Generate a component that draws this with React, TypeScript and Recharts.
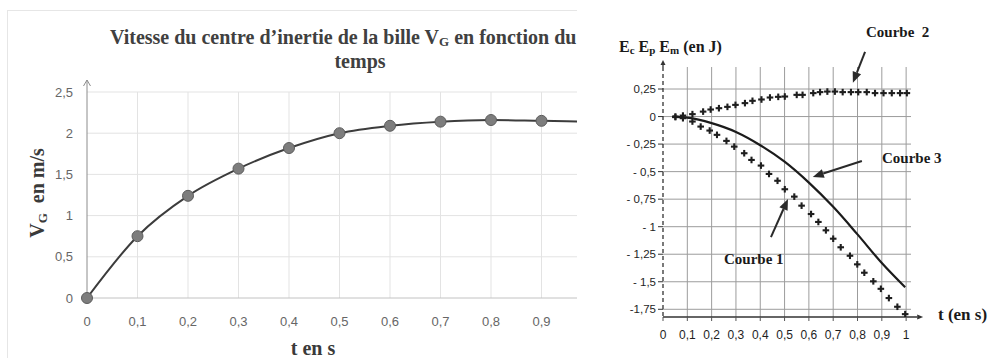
import React from 'react';
import { LineChart, Line, XAxis, YAxis, CartesianGrid, ReferenceDot, ReferenceLine } from 'recharts';

// ---------------- Left chart: V_G = f(t) ----------------
const LEFT_T = [0, 0.1, 0.2, 0.3, 0.4, 0.5, 0.6, 0.7, 0.8, 0.9, 1];
const LEFT_VG = [0, 0.75, 1.24, 1.57, 1.82, 2.0, 2.09, 2.14, 2.16, 2.15, 2.14];
const LEFT_X_TICKS = [0, 0.1, 0.2, 0.3, 0.4, 0.5, 0.6, 0.7, 0.8, 0.9];
const LEFT_Y_TICKS = [0, 0.5, 1, 1.5, 2, 2.5];
const LEFT_GRID_X = [0.1, 0.2, 0.3, 0.4, 0.5, 0.6, 0.7, 0.8, 0.9, 1];
const LEFT_GRID_Y = [0.5, 1, 1.5, 2, 2.5];

// ---------------- Right chart: energies ----------------
// Courbe 1 (Ep)
const C1_T = [0.051, 0.082, 0.121, 0.155, 0.192, 0.222, 0.261, 0.293, 0.334, 0.364, 0.403, 0.436, 0.471, 0.501, 0.54, 0.57, 0.609, 0.639, 0.67, 0.7, 0.731, 0.769, 0.799, 0.828, 0.865, 0.896, 0.929, 0.964, 0.996];
const C1_V = [-0.005, -0.015, -0.045, -0.091, -0.127, -0.166, -0.221, -0.273, -0.333, -0.394, -0.445, -0.521, -0.583, -0.66, -0.727, -0.809, -0.885, -0.957, -1.033, -1.109, -1.187, -1.264, -1.342, -1.418, -1.496, -1.564, -1.648, -1.727, -1.794];
// Courbe 2 (Ec)
const C2_T = [0.051, 0.082, 0.121, 0.165, 0.196, 0.23, 0.265, 0.298, 0.337, 0.368, 0.405, 0.44, 0.474, 0.501, 0.55, 0.574, 0.618, 0.646, 0.676, 0.707, 0.739, 0.773, 0.803, 0.838, 0.872, 0.907, 0.941, 0.975, 1.003];
const C2_V = [0, 0.009, 0.022, 0.045, 0.064, 0.076, 0.088, 0.106, 0.122, 0.143, 0.155, 0.173, 0.179, 0.182, 0.197, 0.197, 0.213, 0.222, 0.227, 0.227, 0.222, 0.222, 0.222, 0.222, 0.213, 0.213, 0.213, 0.213, 0.213];
// Courbe 3 (Em)
const C3_T = [0.04, 0.1, 0.2, 0.3, 0.4, 0.5, 0.6, 0.7, 0.8, 0.9, 0.996];
const C3_V = [0, -0.01, -0.06, -0.14, -0.26, -0.41, -0.6, -0.82, -1.07, -1.33, -1.55];

const RIGHT_X_TICKS = [0, 0.1, 0.2, 0.3, 0.4, 0.5, 0.6, 0.7, 0.8, 0.9, 1];
const RIGHT_GRID_X = [0.1, 0.2, 0.3, 0.4, 0.5, 0.6, 0.7, 0.8, 0.9, 1];
const RIGHT_Y_TICKS = [0.25, 0, -0.25, -0.5, -0.75, -1, -1.25, -1.5, -1.75];
const RIGHT_Y_LABELS = ['0,25', '0', '- 0,25', '- 0,5', '- 0,75', '- 1', '- 1,25', '- 1,5', '-1,75'];
const RIGHT_X_DOMAIN: [number, number] = [0, 1.02];
const RIGHT_Y_DOMAIN: [number, number] = [-1.82, 0.45];
const X_AXIS_END = 1.07;

// annotation arrows (data coordinates): [fromT, fromV, toT, toV]
const ARROWS = [
  [0.831, 0.588, 0.781, 0.306],
  [0.818, -0.403, 0.616, -0.548],
  [0.444, -1.094, 0.514, -0.748],
];

const SERIF = '"Liberation Serif", "Times New Roman", serif';
const SANS = '"Liberation Sans", Arial, sans-serif';

const comma = (v: number) => String(v).replace('.', ',');
const rightYLabel = (v: number) => {
  const i = RIGHT_Y_TICKS.findIndex((t) => Math.abs(t - v) < 1e-9);
  return i >= 0 ? RIGHT_Y_LABELS[i] : String(v);
};

const openUpArrow = (p: any) => {
  const { cx, cy } = p;
  const tip = cy - 12;
  return (
    <g>
      <line x1={cx} y1={cy} x2={cx} y2={tip} stroke="#8c8c8c" strokeWidth={1} />
      <polyline points={`${cx - 3.5},${tip + 6} ${cx},${tip} ${cx + 3.5},${tip + 6}`} fill="none" stroke="#8c8c8c" strokeWidth={1} />
    </g>
  );
};

const filledUpArrow = (p: any) => {
  const { cx, cy } = p;
  const tip = cy - 7;
  return (
    <g>
      <line x1={cx} y1={cy} x2={cx} y2={tip + 3} stroke="#333" strokeWidth={1.3} />
      <polygon points={`${cx - 2.5},${tip + 5} ${cx},${tip} ${cx + 2.5},${tip + 5}`} fill="#333" />
    </g>
  );
};

const makeArrowShape = (head: number, width: number, color: string, sw: number) => (p: any) => {
  const { x1, y1, x2, y2 } = p;
  if ([x1, y1, x2, y2].some((v) => v == null || Number.isNaN(v))) return <g />;
  const ang = Math.atan2(y2 - y1, x2 - x1);
  const bx = x2 - head * Math.cos(ang);
  const by = y2 - head * Math.sin(ang);
  const nx = (-Math.sin(ang) * width) / 2;
  const ny = (Math.cos(ang) * width) / 2;
  return (
    <g>
      <line x1={x1} y1={y1} x2={bx} y2={by} stroke={color} strokeWidth={sw} />
      <polygon points={`${x2},${y2} ${bx + nx},${by + ny} ${bx - nx},${by - ny}`} fill={color} />
    </g>
  );
};

const annotationArrow = makeArrowShape(11, 9, '#2a2a2a', 2);
const axisArrow = makeArrowShape(6, 5, '#333', 1.4);

const renderPlus = (props: any) => {
  const { cx, cy, index } = props;
  if (cx == null || cy == null) return <g key={`n-${index}`} />;
  const a = 3.3;
  return (
    <g key={`p-${index}`}>
      <line x1={cx - a} y1={cy} x2={cx + a} y2={cy} stroke="#1e1e1e" strokeWidth={2.1} />
      <line x1={cx} y1={cy - a} x2={cx} y2={cy + a} stroke="#1e1e1e" strokeWidth={2.1} />
    </g>
  );
};

function LeftChart() {
  const data = LEFT_T.map((t, i) => ({ t, v: LEFT_VG[i] }));
  return (
    <div style={{ position: 'absolute', left: 0, top: 0, width: 577, height: 358, overflow: 'hidden', background: '#fff' }}>
      <div style={{ position: 'absolute', left: 7, top: 10, width: 800, height: 400, border: '1px solid #e6e6e6' }} />
      <div style={{ position: 'absolute', left: 0, top: 0 }}>
        <LineChart width={680} height={358} data={data} margin={{ top: 92, right: 88, bottom: 30, left: 27 }}>
          <CartesianGrid stroke="#e3e3e3" horizontalValues={LEFT_GRID_Y} verticalValues={LEFT_GRID_X} />
          <XAxis
            type="number"
            dataKey="t"
            domain={[0, 1]}
            ticks={LEFT_X_TICKS}
            interval={0}
            tickFormatter={comma}
            axisLine={{ stroke: '#c2c2c2' }}
            tickLine={false}
            tickSize={0}
            tickMargin={19}
            height={30}
            tick={{ fontSize: 13, fill: '#666', fontFamily: SANS }}
          />
          <YAxis
            type="number"
            domain={[0, 2.5]}
            ticks={LEFT_Y_TICKS}
            interval={0}
            tickFormatter={comma}
            axisLine={{ stroke: '#8c8c8c' }}
            tickLine={false}
            tickSize={0}
            tickMargin={14}
            width={60}
            tick={{ fontSize: 13, fill: '#666', fontFamily: SANS }}
          />
          <ReferenceDot x={0} y={2.5} ifOverflow="visible" shape={openUpArrow} />
          <Line
            dataKey="v"
            type="monotone"
            stroke="#3c3c3c"
            strokeWidth={2}
            dot={{ r: 5.5, fill: '#7d7d7d', stroke: '#5c5c5c', strokeWidth: 1 }}
            isAnimationActive={false}
          />
        </LineChart>
      </div>
      <svg width={577} height={358} style={{ position: 'absolute', left: 0, top: 0, pointerEvents: 'none' }}>
        <text x={110} y={44} fontFamily={SERIF} fontWeight="bold" fontSize={20} fill="#404040">
          Vitesse du centre d’inertie de la bille V
          <tspan fontSize={13} dy={2}>G</tspan>
          <tspan dy={-2}> en fonction du</tspan>
        </text>
        <text x={360} y={68} textAnchor="middle" fontFamily={SERIF} fontWeight="bold" fontSize={20} fill="#404040">
          temps
        </text>
        <text
          x={44}
          y={193}
          textAnchor="middle"
          transform="rotate(-90 44 193)"
          fontFamily={SERIF}
          fontSize={20}
          fontWeight="bold"
          fill="#3a3a3a"
        >
          V<tspan fontSize={13} dy={3}>G</tspan>
          <tspan dy={-3}>{'\u00a0 en m/s'}</tspan>
        </text>
        <text x={313} y={355} textAnchor="middle" fontFamily={SERIF} fontSize={20} fontWeight="bold" fill="#3a3a3a">
          t en s
        </text>
      </svg>
    </div>
  );
}

function RightChart() {
  const c1 = C1_T.map((t, i) => ({ t, v: C1_V[i] }));
  const c2 = C2_T.map((t, i) => ({ t, v: C2_V[i] }));
  const c3 = C3_T.map((t, i) => ({ t, v: C3_V[i] }));
  return (
    <div style={{ position: 'absolute', left: 600, top: 0, width: 401, height: 358 }}>
      <LineChart width={401} height={358} margin={{ top: 67, right: 90, bottom: 16, left: 13 }}>
        <CartesianGrid stroke="#9c9c9c" horizontalValues={RIGHT_Y_TICKS} verticalValues={RIGHT_GRID_X} />
        <XAxis
          type="number"
          dataKey="t"
          domain={RIGHT_X_DOMAIN}
          ticks={RIGHT_X_TICKS}
          interval={0}
          allowDataOverflow
          tickFormatter={comma}
          axisLine={false}
          tickLine={{ stroke: '#555' }}
          tickSize={4}
          tickMargin={9}
          height={25}
          tick={{ fontSize: 12, fill: '#1e1e1e', fontFamily: SANS }}
        />
        <YAxis
          type="number"
          domain={RIGHT_Y_DOMAIN}
          ticks={RIGHT_Y_TICKS}
          interval={0}
          allowDataOverflow
          tickFormatter={rightYLabel}
          axisLine={{ stroke: '#333', strokeDasharray: '4 3', strokeWidth: 1.3 }}
          tickLine={{ stroke: '#333' }}
          tickSize={5}
          tickMargin={2}
          width={50}
          tick={{ fontSize: 11.5, fill: '#1e1e1e', fontFamily: SANS }}
        />
        <ReferenceLine
          segment={[{ x: 0, y: RIGHT_Y_DOMAIN[0] }, { x: X_AXIS_END, y: RIGHT_Y_DOMAIN[0] }]}
          ifOverflow="visible"
          shape={axisArrow}
        />
        <ReferenceDot x={0} y={RIGHT_Y_DOMAIN[1]} ifOverflow="visible" shape={filledUpArrow} />
        <Line data={c3} dataKey="v" type="monotone" stroke="#1b1b1b" strokeWidth={2.2} dot={false} isAnimationActive={false} />
        <Line data={c1} dataKey="v" stroke="none" dot={renderPlus} isAnimationActive={false} />
        <Line data={c2} dataKey="v" stroke="none" dot={renderPlus} isAnimationActive={false} />
        {ARROWS.map((a, i) => (
          <ReferenceLine
            key={`arr-${i}`}
            segment={[{ x: a[0], y: a[1] }, { x: a[2], y: a[3] }]}
            ifOverflow="visible"
            shape={annotationArrow}
          />
        ))}
      </LineChart>
      <svg width={401} height={358} style={{ position: 'absolute', left: 0, top: 0, pointerEvents: 'none' }}>
        <text x={19} y={52} fontFamily={SERIF} fontWeight="bold" fontSize={16} fill="#1a1a1a">
          E<tspan fontSize={11} dy={2}>c</tspan>
          <tspan dy={-2}> E</tspan>
          <tspan fontSize={11} dy={2}>p</tspan>
          <tspan dy={-2}> E</tspan>
          <tspan fontSize={11} dy={2}>m</tspan>
          <tspan dy={-2}> (en J)</tspan>
        </text>
        <text x={266} y={37} fontFamily={SERIF} fontWeight="bold" fontSize={15} fill="#1a1a1a">
          Courbe{'\u00a0 '}2
        </text>
        <text x={282} y={163} fontFamily={SERIF} fontWeight="bold" fontSize={15} fill="#1a1a1a">
          Courbe 3
        </text>
        <text x={124} y={264} fontFamily={SERIF} fontWeight="bold" fontSize={15} fill="#1a1a1a">
          Courbe 1
        </text>
        <text x={338} y={320} fontFamily={SERIF} fontWeight="bold" fontSize={17} fill="#1a1a1a">
          t (en s)
        </text>
      </svg>
    </div>
  );
}

export default function App() {
  return (
    <div style={{ position: 'absolute', left: 0, top: 0, width: 1001, height: 358, background: '#fff', overflow: 'hidden' }}>
      <LeftChart />
      <RightChart />
    </div>
  );
}
